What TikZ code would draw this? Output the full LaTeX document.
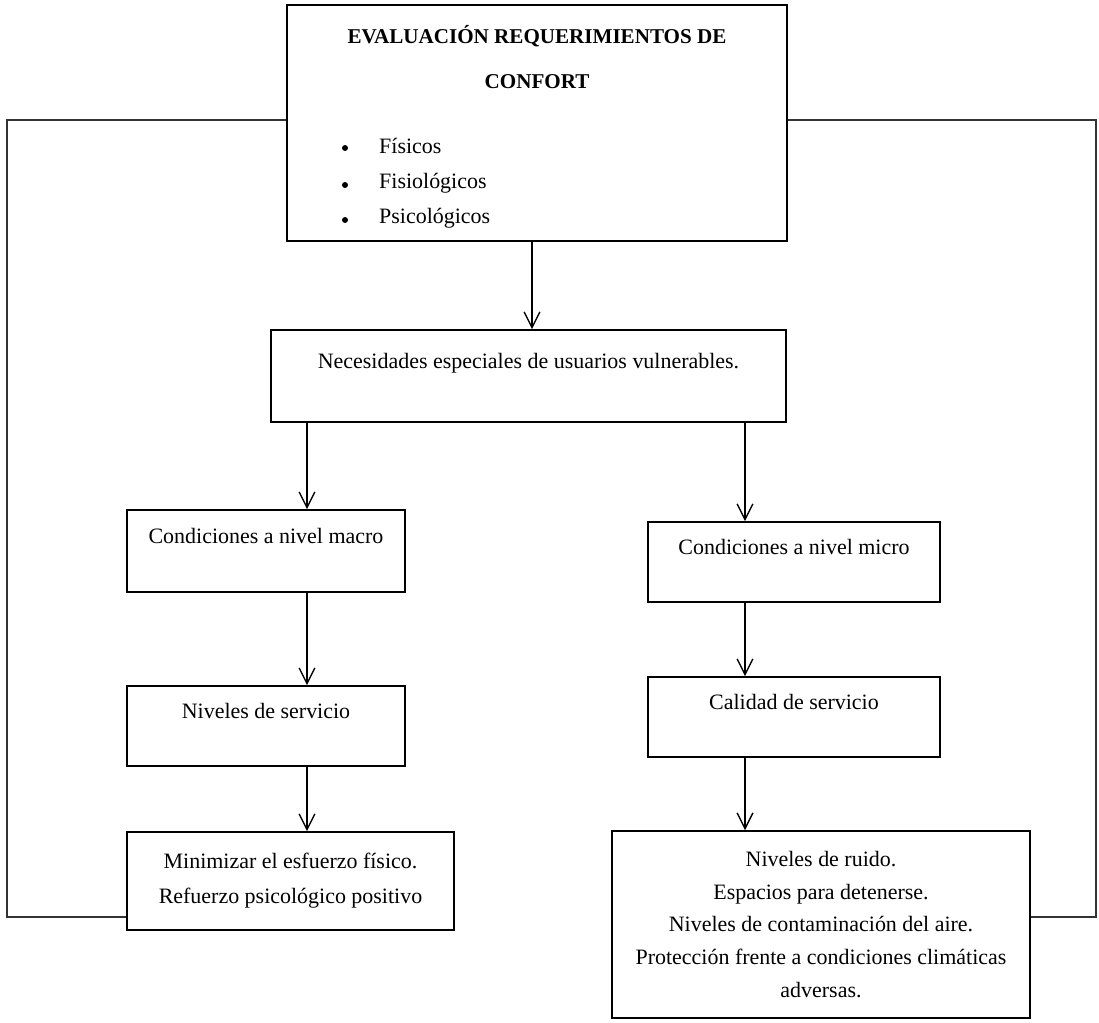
\documentclass[tikz,border=0pt]{standalone}
\usepackage{fontspec}
\setmainfont{Liberation Serif}
\usetikzlibrary{arrows.meta, positioning}

\begin{document}
\begin{tikzpicture}[x=0.02cm, y=-0.02cm,
    font=\fontsize{12.5}{19}\selectfont,
    box/.style 2 args={draw, line width=0.9pt, minimum width=#1, minimum height=#2, align=center, inner sep=2pt},
    raised/.style={text depth=17pt},
    dot/.style={circle, fill, inner sep=0pt, minimum size=0.12cm},
    arr/.style={line width=0.8pt, -{Straight Barb[length=9pt, width=9pt]}},
    frame/.style={line width=0.9pt, black!80}]
\useasboundingbox (0,0) rectangle (1099,1022);

% columns and rails
\coordinate (lcol) at (307,0);
\coordinate (rcol) at (745,0);
\coordinate (leftrail) at (7,0);
\coordinate (rightrail) at (1096,0);
\coordinate (topline) at (0,120);
\coordinate (botline) at (0,917);

% top box
\node[box={10cm}{4.72cm}] (eval) at (537,123) {};
\node[font=\fontsize{12}{25.5}\selectfont\bfseries, align=center] (evaltitle) at (537,57) {EVALUACIÓN REQUERIMIENTOS DE\\CONFORT};
\foreach \n/\word/\y in {1/Físicos/146, 2/Fisiológicos/183, 3/Psicológicos/218} {
    \node[dot] (bul\n) at (345,\y+2) {};
    \node[anchor=west] (item\n) at (373,\y) {\word};
}

\node[box={10.3cm}{1.84cm}, raised] (need) at (528.5,376) {Necesidades especiales de usuarios vulnerables.};

% left column
\node[box={5.56cm}{1.64cm}, raised] (macro) at (266,551) {Condiciones a nivel macro};
\node[box={5.56cm}{1.6cm}, raised] (serv) at (266,726) {Niveles de servicio};
\node[box={6.54cm}{1.96cm}, font=\fontsize{12.5}{20}\selectfont] (botl) at (290.5,881) {Minimizar el esfuerzo físico.\\Refuerzo psicológico positivo};

% right column
\node[box={5.84cm}{1.6cm}, raised] (micro) at (794,562) {Condiciones a nivel micro};
\node[box={5.84cm}{1.6cm}, raised] (calid) at (794,717) {Calidad de servicio};
\node[box={8.36cm}{3.74cm}, font=\fontsize{12.5}{18.6}\selectfont] (botr) at (821,924.5) {Niveles de ruido.\\Espacios para detenerse.\\Niveles de contaminación del aire.\\Protección frente a condiciones climáticas\\adversas.};

% arrows
\draw[arr] ([xshift=-1mm]eval.south) -- ([xshift=-1mm]eval.south |- need.north);
\draw[arr] (need.south -| lcol) -- (macro.north -| lcol);
\draw[arr] (macro.south -| lcol) -- (serv.north -| lcol);
\draw[arr] (serv.south -| lcol) -- (botl.north -| lcol);
\draw[arr] (need.south -| rcol) -- (micro.north -| rcol);
\draw[arr] (micro.south -| rcol) -- (calid.north -| rcol);
\draw[arr] (calid.south -| rcol) -- (botr.north -| rcol);

% side loops
\draw[frame] (eval.west |- topline) -| (leftrail |- botline) -- (botl.west |- botline);
\draw[frame] (eval.east |- topline) -| (rightrail |- botline) -- (botr.east |- botline);
\end{tikzpicture}
\end{document}
